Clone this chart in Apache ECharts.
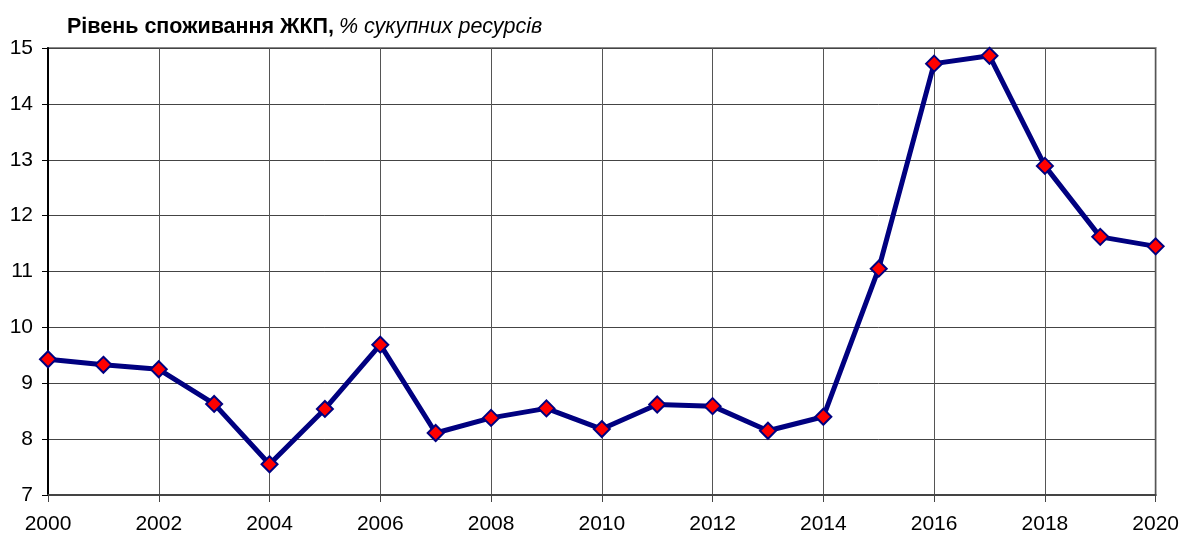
<!DOCTYPE html>
<html>
<head>
<meta charset="utf-8">
<script src="https://cdn.jsdelivr.net/npm/echarts@6/dist/echarts.min.js"></script>
<style>
  html, body { margin: 0; padding: 0; background: #fff; }
  #chart { width: 1182px; height: 535px; }
</style>
</head>
<body>
<div id="chart"></div>
<script>
const years = ['2000', '2001', '2002', '2003', '2004', '2005', '2006', '2007', '2008', '2009', '2010',
  '2011', '2012', '2013', '2014', '2015', '2016', '2017', '2018', '2019', '2020']
const consumption = [9.43, 9.33, 9.25, 8.63, 7.55, 8.54, 9.69, 8.11, 8.38, 8.55, 8.18,
  8.62, 8.59, 8.15, 8.40, 11.05, 14.72, 14.86, 12.89, 11.62, 11.45]

const font = 'Arial, "Liberation Sans", sans-serif'
const chart = echarts.init(document.getElementById('chart'))

chart.setOption({
  animation: false,
  title: {
    text: '{b|Рівень споживання ЖКП,} {i|% сукупних ресурсів}',
    left: 62,
    top: 11,
    textStyle: {
      rich: {
        b: { fontFamily: font, fontSize: 21.5, fontWeight: 'bold', color: '#000' },
        i: { fontFamily: font, fontSize: 21.5, fontWeight: 'normal', fontStyle: 'italic', color: '#000' }
      }
    }
  },
  grid: {
    left: 48,
    right: 24,
    top: 48,
    bottom: 40,
    show: true,
    borderColor: '#888',
    borderWidth: 2
  },
  xAxis: {
    type: 'category',
    data: years,
    boundaryGap: false,
    axisLine: { lineStyle: { color: '#444', width: 2 } },
    axisTick: { interval: 1, length: 7, lineStyle: { color: '#444' } },
    axisLabel: { interval: 1, color: '#000', fontSize: 21, fontFamily: font, margin: 19 },
    splitLine: { show: true, interval: 1, lineStyle: { color: '#555', width: 1 } }
  },
  yAxis: {
    type: 'value',
    min: 7,
    max: 15,
    interval: 1,
    axisLine: { show: true, lineStyle: { color: '#000', width: 2 } },
    axisTick: { show: true, length: 6, lineStyle: { color: '#000' } },
    axisLabel: { color: '#000', fontSize: 21, fontFamily: font, margin: 15 },
    splitLine: { lineStyle: { color: '#444', width: 1 } }
  },
  series: [{
    type: 'line',
    data: consumption,
    lineStyle: { color: '#000080', width: 5 },
    symbol: 'diamond',
    symbolSize: 16,
    itemStyle: { color: '#ff0000', borderColor: '#000080', borderWidth: 2 }
  }]
})
</script>
</body>
</html>
